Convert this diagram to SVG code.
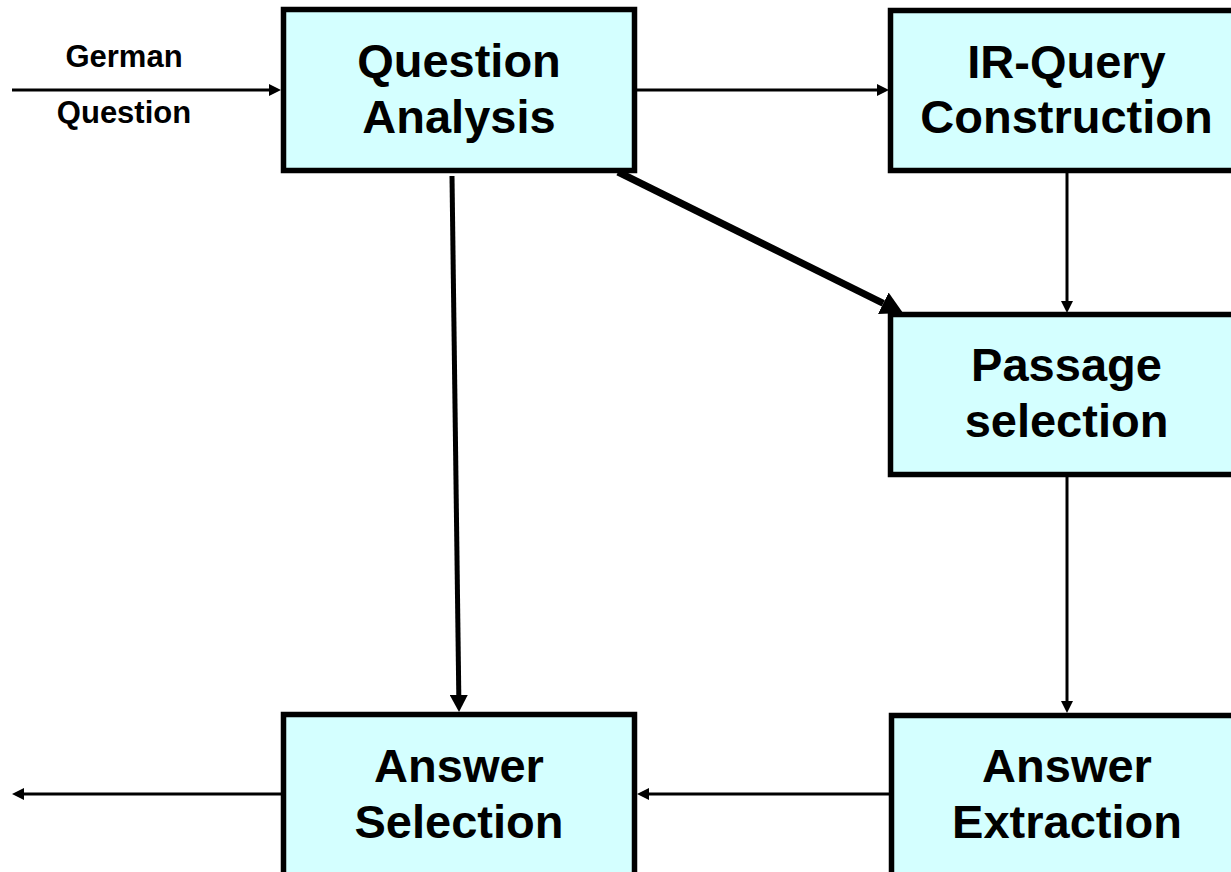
<svg xmlns="http://www.w3.org/2000/svg" width="1231" height="872" viewBox="0 0 1231 872">
<style>
.box{fill:#D4FFFF;stroke:#000;stroke-width:5.5}
.t{font-family:"Liberation Sans",Arial,sans-serif;font-weight:bold;font-size:47px;text-anchor:middle;fill:#000}
.lbl{font-family:"Liberation Sans",Arial,sans-serif;font-weight:bold;font-size:31px;text-anchor:middle;fill:#000}
.c{stroke:#000;fill:none}
</style>
<defs>
<marker id="ah" markerUnits="userSpaceOnUse" viewBox="0 0 12 12" refX="0" refY="6" markerWidth="12" markerHeight="12" orient="auto"><path d="M0,0 L12,6 L0,12 z" fill="#000"/></marker>
<marker id="ahm" markerUnits="userSpaceOnUse" viewBox="0 0 17 18" refX="0" refY="9" markerWidth="17" markerHeight="18" orient="auto"><path d="M0,0 L17,9 L0,18 z" fill="#000"/></marker>
<marker id="ahl" markerUnits="userSpaceOnUse" viewBox="0 0 22 24" refX="0" refY="12" markerWidth="22" markerHeight="24" orient="auto"><path d="M0,0 L22,12 L0,24 z" fill="#000"/></marker>
</defs>
<rect width="1231" height="872" fill="#fff"/>
<g id="connectors">
<line class="c" x1="12" y1="90" x2="269" y2="90" stroke-width="3" marker-end="url(#ah)"/>
<line class="c" x1="637" y1="90" x2="877" y2="90" stroke-width="3" marker-end="url(#ah)"/>
<line class="c" x1="1067" y1="173" x2="1067" y2="301" stroke-width="3" marker-end="url(#ah)"/>
<line class="c" x1="618" y1="172" x2="883.3" y2="303.3" stroke-width="7" marker-end="url(#ahl)"/>
<line class="c" x1="452" y1="176" x2="458.8" y2="695" stroke-width="5" marker-end="url(#ahm)"/>
<line class="c" x1="1067" y1="477" x2="1067" y2="701" stroke-width="3" marker-end="url(#ah)"/>
<line class="c" x1="889" y1="794" x2="649" y2="794" stroke-width="3" marker-end="url(#ah)"/>
<line class="c" x1="281" y1="794" x2="24" y2="794" stroke-width="3" marker-end="url(#ah)"/>
<text class="lbl" x="124" y="67">German</text>
<text class="lbl" x="124" y="123">Question</text>
</g>
<g id="question-analysis">
<rect class="box" x="283.5" y="9.5" width="351" height="161"/>
<text class="t" x="459" y="77">Question</text>
<text class="t" x="459" y="133">Analysis</text>
</g>
<g id="ir-query-construction">
<rect class="box" x="890.5" y="10.5" width="351" height="160"/>
<text class="t" x="1066.5" y="78">IR-Query</text>
<text class="t" x="1066.5" y="133">Construction</text>
</g>
<g id="passage-selection">
<rect class="box" x="890.5" y="314.5" width="351" height="160"/>
<text class="t" x="1066.5" y="381">Passage</text>
<text class="t" x="1066.5" y="437">selection</text>
</g>
<g id="answer-selection">
<rect class="box" x="283.5" y="714.5" width="351" height="161"/>
<text class="t" x="459" y="782">Answer</text>
<text class="t" x="459" y="838">Selection</text>
</g>
<g id="answer-extraction">
<rect class="box" x="891.5" y="715.5" width="351" height="160"/>
<text class="t" x="1067" y="782">Answer</text>
<text class="t" x="1067" y="838">Extraction</text>
</g>
</svg>
